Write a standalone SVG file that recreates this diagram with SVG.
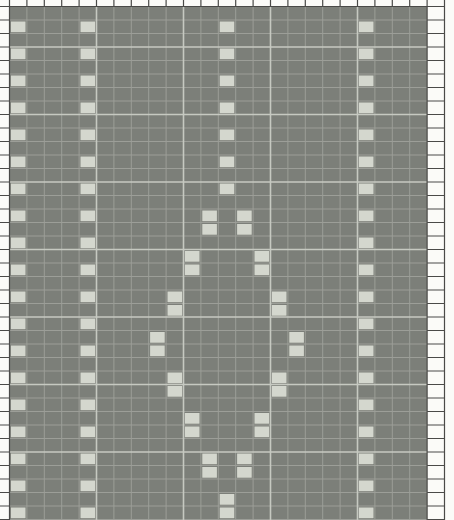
<svg xmlns="http://www.w3.org/2000/svg" xmlns:xlink="http://www.w3.org/1999/xlink" width="454" height="520" viewBox="0 0 454 520">
<style>
.bg{fill:#fbfbf8}
.field{fill:#7c7f79}
.lt{fill:#d4d7ce}
.thin{stroke:#9c9e98;stroke-width:1;fill:none}
.thick{stroke:#c6c9c1;stroke-width:1.6;fill:none}
.dark{stroke:#4a4a48;stroke-width:1.2;fill:none}
</style>
<defs>
<g id="col">
<rect class="lt" x="0" y="21.5" width="14.6" height="10.7"/>
<rect class="lt" x="0" y="48.5" width="14.6" height="10.7"/>
<rect class="lt" x="0" y="75.5" width="14.6" height="10.7"/>
<rect class="lt" x="0" y="102.5" width="14.6" height="10.7"/>
<rect class="lt" x="0" y="129.5" width="14.6" height="10.7"/>
<rect class="lt" x="0" y="156.5" width="14.6" height="10.7"/>
<rect class="lt" x="0" y="183.5" width="14.6" height="10.7"/>
<rect class="lt" x="0" y="210.5" width="14.6" height="10.7"/>
<rect class="lt" x="0" y="237.5" width="14.6" height="10.7"/>
<rect class="lt" x="0" y="264.5" width="14.6" height="10.7"/>
<rect class="lt" x="0" y="291.5" width="14.6" height="10.7"/>
<rect class="lt" x="0" y="318.5" width="14.6" height="10.7"/>
<rect class="lt" x="0" y="345.5" width="14.6" height="10.7"/>
<rect class="lt" x="0" y="372.5" width="14.6" height="10.7"/>
<rect class="lt" x="0" y="399.5" width="14.6" height="10.7"/>
<rect class="lt" x="0" y="426.5" width="14.6" height="10.7"/>
<rect class="lt" x="0" y="453.5" width="14.6" height="10.7"/>
<rect class="lt" x="0" y="480.5" width="14.6" height="10.7"/>
<rect class="lt" x="0" y="507.5" width="14.6" height="10.7"/>
</g>
<rect id="sq" class="lt" width="14.6" height="10.7"/>
</defs>

<g id="background">
<rect class="bg" x="0" y="0" width="454" height="520"/>
<rect class="field" x="9.5" y="6.5" width="417.6" height="513.5"/>
</g>

<g id="thin-grid">
<path class="thin" d="M26.9 6.5V520M44.3 6.5V520M61.7 6.5V520M79.1 6.5V520M113.9 6.5V520M131.3 6.5V520M148.7 6.5V520M166.1 6.5V520M200.9 6.5V520M218.3 6.5V520M235.7 6.5V520M253.1 6.5V520M287.9 6.5V520M305.3 6.5V520M322.7 6.5V520M340.1 6.5V520M374.9 6.5V520M392.3 6.5V520M409.7 6.5V520"/>
<path class="thin" d="M9.5 20H427.1M9.5 33.5H427.1M9.5 60.5H427.1M9.5 74H427.1M9.5 87.5H427.1M9.5 101H427.1M9.5 128H427.1M9.5 141.5H427.1M9.5 155H427.1M9.5 168.5H427.1M9.5 195.5H427.1M9.5 209H427.1M9.5 222.5H427.1M9.5 236H427.1M9.5 263H427.1M9.5 276.5H427.1M9.5 290H427.1M9.5 303.5H427.1M9.5 330.5H427.1M9.5 344H427.1M9.5 357.5H427.1M9.5 371H427.1M9.5 398H427.1M9.5 411.5H427.1M9.5 425H427.1M9.5 438.5H427.1M9.5 465.5H427.1M9.5 479H427.1M9.5 492.5H427.1M9.5 506H427.1M9.5 519.5H427.1"/>
</g>

<g id="thick-grid">
<path class="thick" d="M96.5 6.5V520M183.5 6.5V520M270.5 6.5V520M357.5 6.5V520"/>
<path class="thick" d="M9.5 47H427.1M9.5 114.5H427.1M9.5 182H427.1M9.5 249.5H427.1M9.5 317H427.1M9.5 384.5H427.1M9.5 452H427.1"/>
</g>

<g id="side-columns">
<use xlink:href="#col" x="10.9" y="0"/>
<use xlink:href="#col" x="80.5" y="0"/>
<use xlink:href="#col" x="358.9" y="0"/>
</g>

<g id="center-column">
<use xlink:href="#sq" x="219.7" y="21.5"/>
<use xlink:href="#sq" x="219.7" y="48.5"/>
<use xlink:href="#sq" x="219.7" y="75.5"/>
<use xlink:href="#sq" x="219.7" y="102.5"/>
<use xlink:href="#sq" x="219.7" y="129.5"/>
<use xlink:href="#sq" x="219.7" y="156.5"/>
<use xlink:href="#sq" x="219.7" y="183.5"/>
<use xlink:href="#sq" x="219.7" y="494"/>
<use xlink:href="#sq" x="219.7" y="507.5"/>
</g>

<g id="diamond">
<use xlink:href="#sq" x="202.3" y="210.5"/><use xlink:href="#sq" x="202.3" y="224"/>
<use xlink:href="#sq" x="237.1" y="210.5"/><use xlink:href="#sq" x="237.1" y="224"/>
<use xlink:href="#sq" x="184.9" y="251"/><use xlink:href="#sq" x="184.9" y="264.5"/>
<use xlink:href="#sq" x="254.5" y="251"/><use xlink:href="#sq" x="254.5" y="264.5"/>
<use xlink:href="#sq" x="167.5" y="291.5"/><use xlink:href="#sq" x="167.5" y="305"/>
<use xlink:href="#sq" x="271.9" y="291.5"/><use xlink:href="#sq" x="271.9" y="305"/>
<use xlink:href="#sq" x="150.1" y="332"/><use xlink:href="#sq" x="150.1" y="345.5"/>
<use xlink:href="#sq" x="289.3" y="332"/><use xlink:href="#sq" x="289.3" y="345.5"/>
<use xlink:href="#sq" x="167.5" y="372.5"/><use xlink:href="#sq" x="167.5" y="386"/>
<use xlink:href="#sq" x="271.9" y="372.5"/><use xlink:href="#sq" x="271.9" y="386"/>
<use xlink:href="#sq" x="184.9" y="413"/><use xlink:href="#sq" x="184.9" y="426.5"/>
<use xlink:href="#sq" x="254.5" y="413"/><use xlink:href="#sq" x="254.5" y="426.5"/>
<use xlink:href="#sq" x="202.3" y="453.5"/><use xlink:href="#sq" x="202.3" y="467"/>
<use xlink:href="#sq" x="237.1" y="453.5"/><use xlink:href="#sq" x="237.1" y="467"/>
</g>

<g id="border-cells">
<path class="dark" d="M0 6.5H444.5M9.5 0V520M427.1 0V520M444.5 0V520"/>
<path class="dark" d="M26.9 0V6.5M44.3 0V6.5M61.7 0V6.5M79.1 0V6.5M96.5 0V6.5M113.9 0V6.5M131.3 0V6.5M148.7 0V6.5M166.1 0V6.5M183.5 0V6.5M200.9 0V6.5M218.3 0V6.5M235.7 0V6.5M253.1 0V6.5M270.5 0V6.5M287.9 0V6.5M305.3 0V6.5M322.7 0V6.5M340.1 0V6.5M357.5 0V6.5M374.9 0V6.5M392.3 0V6.5M409.7 0V6.5"/>
<path class="dark" d="M0 20H9.5M0 33.5H9.5M0 47H9.5M0 60.5H9.5M0 74H9.5M0 87.5H9.5M0 101H9.5M0 114.5H9.5M0 128H9.5M0 141.5H9.5M0 155H9.5M0 168.5H9.5M0 182H9.5M0 195.5H9.5M0 209H9.5M0 222.5H9.5M0 236H9.5M0 249.5H9.5M0 263H9.5M0 276.5H9.5M0 290H9.5M0 303.5H9.5M0 317H9.5M0 330.5H9.5M0 344H9.5M0 357.5H9.5M0 371H9.5M0 384.5H9.5M0 398H9.5M0 411.5H9.5M0 425H9.5M0 438.5H9.5M0 452H9.5M0 465.5H9.5M0 479H9.5M0 492.5H9.5M0 506H9.5M0 519.5H9.5"/>
<path class="dark" d="M427.1 20H444.5M427.1 33.5H444.5M427.1 47H444.5M427.1 60.5H444.5M427.1 74H444.5M427.1 87.5H444.5M427.1 101H444.5M427.1 114.5H444.5M427.1 128H444.5M427.1 141.5H444.5M427.1 155H444.5M427.1 168.5H444.5M427.1 182H444.5M427.1 195.5H444.5M427.1 209H444.5M427.1 222.5H444.5M427.1 236H444.5M427.1 249.5H444.5M427.1 263H444.5M427.1 276.5H444.5M427.1 290H444.5M427.1 303.5H444.5M427.1 317H444.5M427.1 330.5H444.5M427.1 344H444.5M427.1 357.5H444.5M427.1 371H444.5M427.1 384.5H444.5M427.1 398H444.5M427.1 411.5H444.5M427.1 425H444.5M427.1 438.5H444.5M427.1 452H444.5M427.1 465.5H444.5M427.1 479H444.5M427.1 492.5H444.5M427.1 506H444.5M427.1 519.5H444.5"/>
</g>
</svg>
